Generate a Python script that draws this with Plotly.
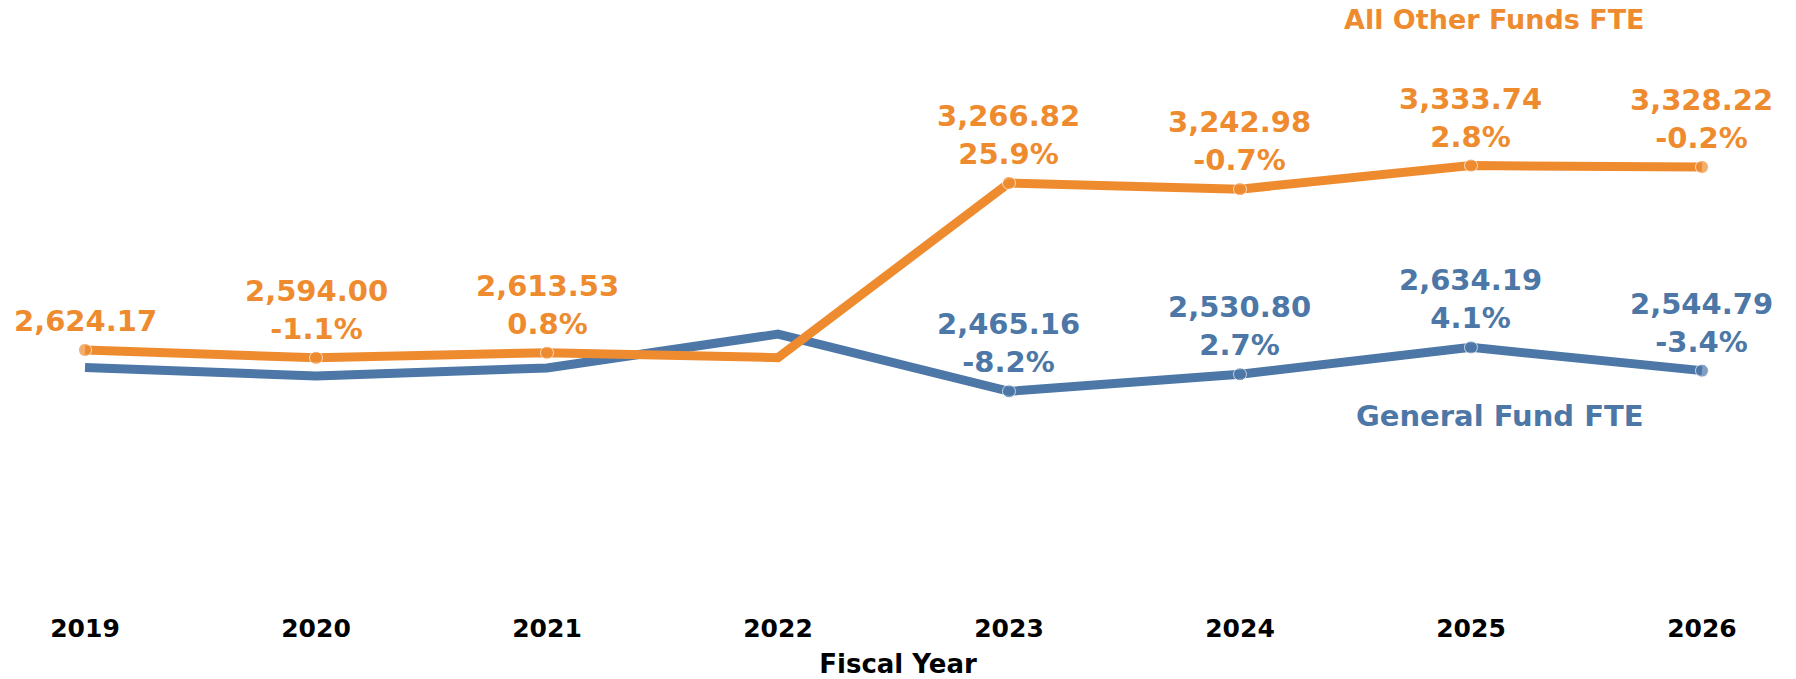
import plotly.graph_objects as go

years = [2019, 2020, 2021, 2022, 2023, 2024, 2025, 2026]
other_fte = [2624.17, 2594.00, 2613.53, 2594.80, 3266.82, 3242.98, 3333.74, 3328.22]
general_fte = [2557.0, 2524.0, 2555.0, 2685.3, 2465.16, 2530.80, 2634.19, 2544.79]
other_pct = [None, "-1.1%", "0.8%", None, "25.9%", "-0.7%", "2.8%", "-0.2%"]
general_pct = [None, None, None, None, "-8.2%", "2.7%", "4.1%", "-3.4%"]
other_labeled = [True, True, True, False, True, True, True, True]
general_labeled = [False, False, False, False, True, True, True, True]

ORANGE = "#EF8B2F"
BLUE = "#4C77A6"
FONT = "DejaVu Sans"

fig = go.Figure()
fig.add_trace(go.Scatter(
    x=years, y=general_fte, mode="lines+markers",
    line=dict(color=BLUE, width=9),
    marker=dict(color=BLUE, size=[0 if not l else 13 for l in general_labeled]),
    showlegend=False, hoverinfo="skip"))
fig.add_trace(go.Scatter(
    x=years, y=other_fte, mode="lines+markers",
    line=dict(color=ORANGE, width=9),
    marker=dict(color=ORANGE, size=[13 if l else 0 for l in other_labeled]),
    showlegend=False, hoverinfo="skip"))

def add_labels(vals, pcts, flags, color):
    for yr, v, p, f in zip(years, vals, pcts, flags):
        if not f:
            continue
        txt = f"<b>{v:,.2f}</b>" + (f"<br><b>{p}</b>" if p else "")
        fig.add_annotation(x=yr, y=v, xref="x", yref="y", text=txt,
                           showarrow=False, yanchor="bottom", yshift=10,
                           font=dict(family=FONT, size=29, color=color),
                           align="center")

add_labels(other_fte, other_pct, other_labeled, ORANGE)
add_labels(general_fte, general_pct, general_labeled, BLUE)

fig.add_annotation(x=1494 / 1796, y=1 - 20 / 600, xref="paper", yref="paper",
                   xanchor="center", yanchor="middle",
                   text="<b>All Other Funds FTE</b>", showarrow=False,
                   font=dict(family=FONT, size=27, color=ORANGE))
fig.add_annotation(x=1500 / 1796, y=1 - 416 / 600, xref="paper", yref="paper",
                   xanchor="center", yanchor="middle",
                   text="<b>General Fund FTE</b>", showarrow=False,
                   font=dict(family=FONT, size=29, color=BLUE))

fig.update_xaxes(range=[2018.632, 2026.407], tickmode="array", tickvals=years,
                 ticktext=[f"<b>{y}</b>" for y in years],
                 tickfont=dict(family=FONT, size=25, color="black"),
                 showgrid=False, zeroline=False, showline=False,
                 ticks="outside", ticklen=6, tickcolor="rgba(0,0,0,0)",
                 title=dict(text="<b>Fiscal Year</b>", standoff=13,
                            font=dict(family=FONT, size=26, color="black")))
fig.update_yaxes(range=[1662.4, 3970.6], visible=False, showgrid=False, zeroline=False)

fig.update_layout(width=1796, height=679, plot_bgcolor="white", paper_bgcolor="white",
                  margin=dict(l=0, r=0, t=0, b=79))

fig.write_html("out.html", config={"displayModeBar": False},
               post_script="document.body.style.margin='0';document.body.style.overflow='hidden';")
